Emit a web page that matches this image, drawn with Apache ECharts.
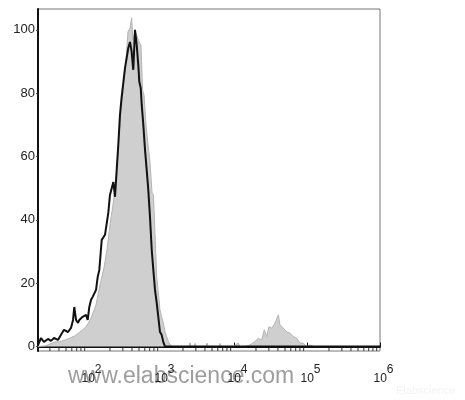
<!DOCTYPE html>
<html>
<head>
<meta charset="utf-8">
<script src="https://cdn.jsdelivr.net/npm/echarts@6/dist/echarts.min.js"></script>
<style>
  html, body { margin: 0; padding: 0; background: #fff; }
  #chart { width: 465px; height: 400px; }
</style>
</head>
<body>
<div id="chart"></div>
<script>
// x values are log10 of fluorescence intensity, y values are % of max
// control (black line)
const controlX = [1.315, 1.356, 1.397, 1.452, 1.493, 1.534, 1.589, 1.630, 1.671, 1.726,
    1.767, 1.795, 1.812, 1.836, 1.863, 1.881, 1.927, 1.973, 1.996, 2.018,
    2.041, 2.064, 2.110, 2.133, 2.155, 2.188, 2.233, 2.278, 2.301, 2.347,
    2.370, 2.393, 2.415, 2.438, 2.461, 2.507, 2.530, 2.552, 2.575, 2.598,
    2.620, 2.644, 2.667, 2.689, 2.703, 2.722, 2.736, 2.758, 2.781, 2.804,
    2.826, 2.849, 2.873, 2.895, 2.918, 2.941, 2.963, 2.986, 3.009, 3.031,
    3.055, 3.078, 3.123, 4.000, 5.000, 6.000]
const controlY = [0.5, 2.7, 1.5, 2.4, 1.8, 2.7, 2.1, 3.7, 5.3, 4.6,
    5.9, 8.4, 12.5, 8.4, 7.5, 8.4, 9.4, 10.0, 8.4, 12.5,
    14.7, 15.7, 17.9, 22.0, 24.2, 33.7, 35.3, 42.2, 47.9, 52.0,
    47.3, 55.8, 63.7, 73.2, 78.8, 88.0, 91.2, 94.3, 96.2, 93.1,
    87.4, 100.0, 95.3, 88.9, 83.6, 81.7, 76.3, 70.0, 62.1, 55.8,
    49.5, 41.0, 30.5, 24.2, 17.9, 13.8, 9.4, 4.6, 3.7, 1.5,
    0, 0.5, 0, 0, 0, 0]

// stained sample (gray filled)
const sampleX = [1.315, 1.411, 1.479, 1.548, 1.616, 1.685, 1.753, 1.822, 1.890, 1.959,
    2.000, 2.055, 2.110, 2.164, 2.219, 2.260, 2.301, 2.342, 2.383, 2.411,
    2.438, 2.466, 2.493, 2.520, 2.548, 2.575, 2.598, 2.616, 2.644, 2.671,
    2.699, 2.726, 2.747, 2.767, 2.795, 2.822, 2.849, 2.877, 2.897, 2.918,
    2.941, 2.963, 2.986, 3.009, 3.031, 3.055, 3.078, 3.100, 3.147,
    3.380, 3.397, 3.414, 3.450, 3.466, 3.483, 3.613, 3.630, 3.647, 3.790, 3.808, 3.825,
    3.990, 4.059, 4.082, 4.151, 4.219, 4.288, 4.333, 4.379, 4.415, 4.448,
    4.479, 4.516, 4.562, 4.607, 4.630, 4.675, 4.722, 4.767, 4.812, 4.859,
    4.904, 4.949, 4.996, 5.041, 5.086, 6.000]
const sampleY = [0, 0.2, 0.8, 1.5, 1.5, 2.1, 2.7, 3.4, 4.6, 5.9,
    7.2, 9.7, 13.2, 19.5, 24.9, 30.5, 38.4, 44.7, 52.6, 62.1,
    70.0, 77.9, 84.2, 90.5, 99.4, 100.6, 103.8, 96.8, 99.4, 98.1,
    96.2, 95.2, 81.0, 79.5, 70.0, 63.7, 58.3, 48.5, 47.6, 35.3,
    22.0, 17.0, 11.6, 9.4, 7.5, 4.6, 3.1, 1.5, 0,
    0, 1.2, 0, 0, 1.0, 0, 0, 1.1, 0, 0, 1.0, 0,
    0, 1.1, 0, 0, 0.5, 1.6, 2.6, 2.1, 5.3, 3.2,
    6.3, 5.8, 7.4, 10.0, 6.9, 5.8, 4.7, 4.2, 3.2, 2.6,
    1.1, 1.1, 0, 0.5, 0, 0]

const decades = [2, 3, 4, 5, 6]
const yTicks = [0, 20, 40, 60, 80, 100]

const xMin = 1.315
const xMax = 6
const yMin = -1.4
const yMax = 106.6

const pair = (xs, ys) => xs.map((x, i) => [x, ys[i]])

// minor log ticks (2..9 x 10^n) inside the visible range
const minorTicks = []
for (let d = 1; d < 6; d++) {
    for (let k = 2; k <= 9; k++) {
        const v = d + Math.log10(k)
        if (v > xMin && v < xMax) minorTicks.push([v])
    }
}

const chart = echarts.init(document.getElementById('chart'))

chart.setOption({
    animation: false,
    backgroundColor: '#fff',
    grid: {
        left: 38, right: 85, top: 9, bottom: 49,
        show: true,
        borderColor: '#777',
        borderWidth: 1,
        backgroundColor: 'transparent'
    },
    xAxis: {
        type: 'value',
        min: xMin,
        max: xMax,
        splitLine: { show: false },
        axisLine: { lineStyle: { color: '#111', width: 2 } },
        axisTick: {
            show: true, length: 4, inside: true,
            lineStyle: { color: '#111', width: 1 }
        },
        axisLabel: {
            margin: 13,
            color: '#222',
            fontFamily: 'Liberation Sans, Arial',
            formatter: v => decades.indexOf(v) >= 0 ? '{b|10}{s|' + v + '}' : '',
            rich: {
                // left pad keeps "10" centred on the tick, exponent hangs to the right
                b: { fontSize: 12, verticalAlign: 'bottom', padding: [0, 0, 0, 7], fontFamily: 'Liberation Sans, Arial', color: '#222' },
                s: { fontSize: 12, verticalAlign: 'bottom', padding: [0, 0, 9, 0], fontFamily: 'Liberation Sans, Arial', color: '#222' }
            }
        }
    },
    yAxis: {
        type: 'value',
        min: yMin,
        max: yMax,
        splitLine: { show: false },
        axisLine: { lineStyle: { color: '#111', width: 2 } },
        axisTick: {
            show: true, length: 2,
            lineStyle: { color: '#444' },
            customValues: yTicks
        },
        axisLabel: {
            margin: 3,
            color: '#222',
            fontSize: 13,
            fontFamily: 'Liberation Sans, Arial',
            customValues: yTicks
        }
    },
    graphic: [
        {
            type: 'text',
            left: 68,
            top: 365,
            silent: true,
            style: {
                text: 'www.elabscience.com',
                fontSize: 23,
                fontFamily: 'Liberation Sans, Arial',
                fill: 'rgba(140,140,140,0.85)'
            }
        },
        {
            type: 'text',
            left: 396,
            top: 385,
            silent: true,
            style: {
                text: 'Elabscience',
                fontSize: 11,
                fontFamily: 'Liberation Sans, Arial',
                fill: '#f3f3f3'
            }
        }
    ],
    series: [
        {
            name: 'Sample',
            type: 'line',
            data: pair(sampleX, sampleY),
            symbol: 'none',
            lineStyle: { color: '#b4b4b4', width: 1 },
            areaStyle: { color: '#cfcfcf', opacity: 1, origin: 0 },
            z: 2
        },
        {
            name: 'Control',
            type: 'line',
            data: pair(controlX, controlY),
            symbol: 'none',
            lineStyle: { color: '#111', width: 2 },
            z: 3
        },
        {
            name: 'minor',
            type: 'custom',
            data: minorTicks,
            silent: true,
            z: 4,
            renderItem: (params, api) => {
                const p = api.coord([api.value(0), yMin])
                return {
                    type: 'line',
                    shape: { x1: p[0], y1: p[1], x2: p[0], y2: p[1] - 3 },
                    style: { stroke: '#333', lineWidth: 1 }
                }
            }
        }
    ]
})
</script>
</body>
</html>
